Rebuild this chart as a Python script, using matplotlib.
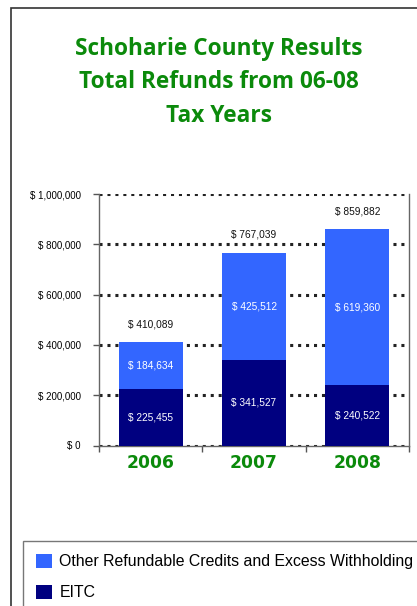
import matplotlib
matplotlib.use("Agg")
import matplotlib.pyplot as plt
from matplotlib.patches import Rectangle
from matplotlib.ticker import FuncFormatter

years = ["2006", "2007", "2008"]
eitc = [225455, 341527, 240522]
other = [184634, 425512, 619360]
totals = [410089, 767039, 859882]
series_labels = ["Other Refundable Credits and Excess Withholding", "EITC"]
title_lines = ["Schoharie County Results", "Total Refunds from 06-08", "Tax Years"]

W, H = 417, 606
fig = plt.figure(figsize=(W / 100, H / 100), dpi=100)
fig.patch.set_facecolor("white")

# outer frame
fig.patches.append(Rectangle((11 / W, -0.1), 1.2, (H - 8) / H + 0.1, transform=fig.transFigure,
                             fill=False, edgecolor="#333333", linewidth=1.2))

green = "#0b8a0b"
for i, line in enumerate(title_lines):
    fig.text(219 / W, 1 - (49 + 33.5 * i) / H, line, ha="center", va="center",
             color=green, fontsize=16.3, fontweight="bold", family="Open Sans")

left, right, top, bottom = 99, 409, 194, 445.5
ax = fig.add_axes([left / W, 1 - bottom / H, (right - left) / W, (bottom - top) / H])
x = list(range(len(years)))
c_other = "#3366FF"
c_eitc = "#000080"
bw = 0.62
b1 = ax.bar(x, eitc, width=bw, color=c_eitc, zorder=3, label=series_labels[1])
b2 = ax.bar(x, other, width=bw, bottom=eitc, color=c_other, zorder=3, label=series_labels[0])

tf = dict(family="Liberation Sans", fontsize=7.3)
for i in x:
    ax.text(i, eitc[i] / 2, "$ {:,}".format(eitc[i]), ha="center", va="center", color="white", zorder=4, **tf)
    ax.text(i, eitc[i] + other[i] / 2, "$ {:,}".format(other[i]), ha="center", va="center", color="white", zorder=4, **tf)
    ax.annotate("$ {:,}".format(totals[i]), (i, totals[i]), xytext=(0, 13), textcoords="offset points",
                ha="center", va="center", color="#111111", **tf)

ax.set_xlim(-0.5, 2.5)
ax.set_ylim(0, 1000000)
ax.set_yticks(range(0, 1000001, 200000))
ax.yaxis.set_major_formatter(FuncFormatter(lambda v, p: "$ {:,}".format(int(v))))
ax.set_xticks([-0.5, 0.5, 1.5, 2.5])
ax.set_xticklabels([])
ax.tick_params(axis="x", direction="out", length=4, color="#555555", width=1)
ax.tick_params(axis="y", direction="out", length=4, color="#555555", width=1, labelsize=7.0, pad=9)
for lab in ax.get_yticklabels():
    lab.set_family("Liberation Sans")
for i, yl in enumerate(years):
    ax.text(i, -0.07, yl, transform=ax.get_xaxis_transform(), ha="center", va="center",
            color=green, fontsize=12.3, fontweight="bold", family="DejaVu Sans")

ax.yaxis.grid(True, linestyle=(0, (1, 1.6)), linewidth=2.2, color="#222222", zorder=1)
ax.set_axisbelow(True)
ax.spines["top"].set_visible(False)
for s in ["left", "bottom", "right"]:
    ax.spines[s].set_color("#666666")
    ax.spines[s].set_linewidth(1)

leg = fig.legend([b2, b1], series_labels, loc="upper left",
                 bbox_to_anchor=(23 / W, 1 - 540.5 / H - 0.01, (W + 2 - 23) / W, 0.01), mode="expand",
                 frameon=True, fancybox=False, edgecolor="#555555",
                 prop={"family": "Liberation Sans", "size": 11.4},
                 handlelength=1.0, handleheight=1.0, handletextpad=0.45,
                 borderpad=0.85, labelspacing=0.95, borderaxespad=0)
leg.get_frame().set_linewidth(1)

fig.savefig("out.png", dpi=100, facecolor="white")
